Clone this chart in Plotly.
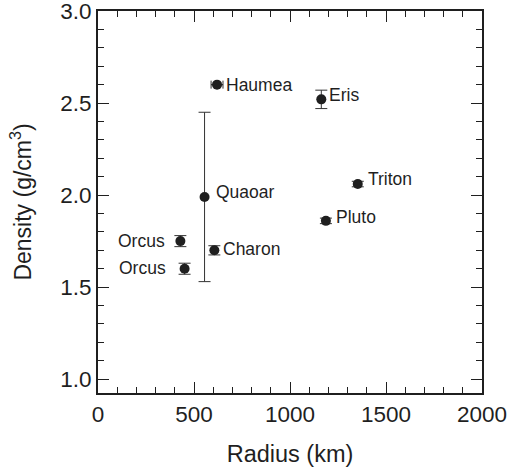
import plotly.graph_objects as go

names = ["Haumea", "Eris", "Triton", "Pluto", "Quaoar", "Charon", "Orcus", "Orcus"]
radius_km = [620, 1163, 1353, 1187, 555, 606, 429, 451]
density = [2.60, 2.52, 2.06, 1.86, 1.99, 1.70, 1.75, 1.60]
radius_err = [31, 0, 12, 12, 0, 10, 0, 0]
density_err = [0.0, 0.05, 0.015, 0.015, 0.46, 0.025, 0.03, 0.03]
label_dx = [7, 6, 8, 8, 9, 7, -13, -17]
label_dy = [0, -4.5, -5, -3.7, -5, -1.5, 0, -1]
label_side = ["left", "left", "left", "left", "left", "left", "right", "right"]

ink = "#1f1f1f"
fig = go.Figure()
fig.add_trace(go.Scatter(
    x=radius_km, y=density, mode="markers",
    marker=dict(size=10, color=ink),
    error_x=dict(type="data", array=radius_err, visible=True, color="#333", thickness=1, width=4),
    error_y=dict(type="data", array=density_err, visible=True, color="#333", thickness=1, width=6),
    hoverinfo="skip", showlegend=False,
))

for n, x, y, dx, dy, side in zip(names, radius_km, density, label_dx, label_dy, label_side):
    fig.add_annotation(x=x, y=y, text=n, showarrow=False, xanchor=side, yanchor="middle",
                       xshift=dx, yshift=-dy, font=dict(size=17.5, color=ink))

axis_common = dict(
    showline=True, linecolor=ink, linewidth=2, mirror="ticks",
    ticks="inside", ticklen=11, tickwidth=1, tickcolor=ink,
    showgrid=False, zeroline=False, ticklabeloverflow="allow",
    tickfont=dict(size=22.5, color=ink),
)
fig.update_xaxes(range=[0, 2000], tickvals=[0, 500, 1000, 1500, 2000],
                 minor=dict(dtick=100, ticks="inside", ticklen=6, tickcolor=ink, tickwidth=1),
                 title=dict(text="Radius (km)", font=dict(size=23.5, color=ink), standoff=20),
                 **axis_common)
fig.update_yaxes(range=[0.925, 3.0], tickvals=[1.0, 1.5, 2.0, 2.5, 3.0], tickformat=".1f",
                 minor=dict(dtick=0.1, tick0=0, ticks="inside", ticklen=6, tickcolor=ink, tickwidth=1),
                 title=dict(text="Density (g/cm<sup>3</sup>)", font=dict(size=23, color=ink), standoff=22),
                 **axis_common)
fig.update_layout(
    width=511, height=473,
    margin=dict(l=98, r=29, t=11, b=80, autoexpand=False),
    paper_bgcolor="white", plot_bgcolor="white",
    font=dict(family="Liberation Sans, Arial, sans-serif", color=ink),
)
fig.write_html("out.html", config={"displayModeBar": False, "staticPlot": True},
               post_script="document.body.style.margin='0';document.body.style.overflow='hidden';")
